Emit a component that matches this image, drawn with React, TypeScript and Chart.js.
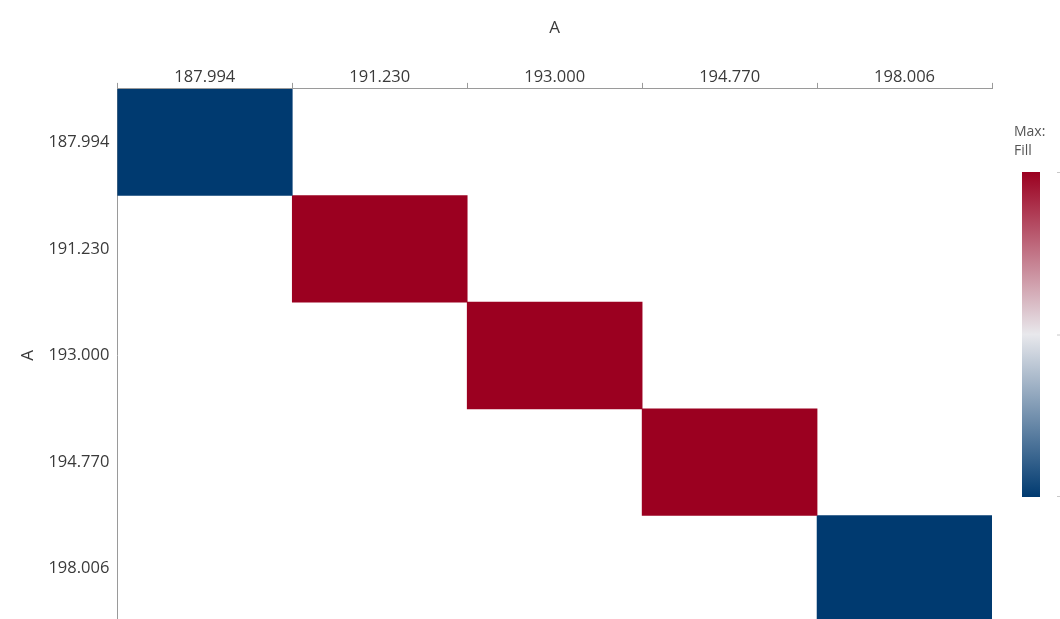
import React, { useEffect, useRef } from 'react';
import { Chart, registerables } from 'chart.js';

Chart.register(...registerables);

const colLabels = ['187.994', '191.230', '193.000', '194.770', '198.006'];
const rowLabels = ['187.994', '191.230', '193.000', '194.770', '198.006'];
// Fill value of each cell (null = empty cell)
const cellValues: (number | null)[][] = [
  [0, null, null, null, null],
  [null, 1, null, null, null],
  [null, null, 1, null, null],
  [null, null, null, 1, null],
  [null, null, null, null, 0],
];
const xTitle = 'A';
const yTitle = 'A';
const legendTitle = ['Max:', 'Fill'];
const valueMin = 0;
const valueMax = 1;
const colorStops: [number, string][] = [
  [0, '#003a70'],
  [0.5, '#e8e8ec'],
  [1, '#9b0020'],
];

const FONT = "'Open Sans', 'Noto Sans', sans-serif";
const TEXT = '#3a3a3a';
const AXIS = '#9a9a9a';

function hexToRgb(h: string) {
  const n = parseInt(h.slice(1), 16);
  return [(n >> 16) & 255, (n >> 8) & 255, n & 255];
}

function colorFor(v: number) {
  const t = Math.max(0, Math.min(1, (v - valueMin) / (valueMax - valueMin)));
  for (let i = 0; i < colorStops.length - 1; i++) {
    const [a, ca] = colorStops[i];
    const [b, cb] = colorStops[i + 1];
    if (t >= a && t <= b) {
      const f = b === a ? 0 : (t - a) / (b - a);
      const A = hexToRgb(ca);
      const B = hexToRgb(cb);
      const c = A.map((x, k) => Math.round(x + (B[k] - x) * f));
      return `rgb(${c[0]},${c[1]},${c[2]})`;
    }
  }
  return colorStops[colorStops.length - 1][1];
}

const colorBarPlugin = {
  id: 'colorBar',
  afterDraw(chart: any) {
    const ctx = chart.ctx as CanvasRenderingContext2D;
    ctx.save();
    ctx.fillStyle = '#555';
    ctx.font = `14px ${FONT}`;
    ctx.textAlign = 'left';
    ctx.textBaseline = 'middle';
    legendTitle.forEach((t, i) => ctx.fillText(t, 1014, 132 + i * 19));
    const x = 1022, top = 172, w = 18, h = 325;
    const g = ctx.createLinearGradient(0, top + h, 0, top);
    colorStops.forEach(([p, c]) => g.addColorStop(p, c));
    ctx.fillStyle = g;
    ctx.fillRect(x, top, w, h);
    ctx.strokeStyle = '#c8c8c8';
    ctx.lineWidth = 1;
    [top, top + h / 2, top + h - 1].forEach((y) => {
      ctx.beginPath();
      ctx.moveTo(1057, y + 0.5);
      ctx.lineTo(1060, y + 0.5);
      ctx.stroke();
    });
    ctx.restore();
  },
};

export default function App() {
  const ref = useRef<HTMLCanvasElement | null>(null);

  useEffect(() => {
    if (!ref.current) return;
    const datasets = rowLabels.map((_, r) => ({
      label: rowLabels[r],
      data: colLabels.map((_, c) => (cellValues[r][c] == null ? null : [r - 0.5, r + 0.5])) as any,
      backgroundColor: colLabels.map((_, c) => (cellValues[r][c] == null ? 'rgba(0,0,0,0)' : colorFor(cellValues[r][c] as number))),
      borderWidth: 0,
      barPercentage: 1,
      categoryPercentage: 1,
      grouped: false,
    }));

    const chart = new Chart(ref.current, {
      type: 'bar',
      data: { labels: colLabels, datasets },
      plugins: [colorBarPlugin],
      options: {
        animation: false,
        responsive: false,
        maintainAspectRatio: false,
        layout: { padding: { left: 0, right: 68, top: 0, bottom: 0 } },
        plugins: { legend: { display: false }, tooltip: { enabled: false } },
        scales: {
          x: {
            type: 'category',
            position: 'top',
            offset: true,
            grid: {
              display: true,
              offset: true,
              drawOnChartArea: false,
              drawTicks: true,
              tickLength: 6,
              color: AXIS,
            },
            border: { display: true, color: AXIS },
            ticks: { color: TEXT, font: { family: FONT, size: 16.5, lineHeight: 1 }, padding: -3, maxRotation: 0, autoSkip: false },
            title: {
              display: true,
              text: xTitle,
              color: TEXT,
              font: { family: FONT, size: 17 },
              padding: { top: 18, bottom: 34 },
            },
          },
          y: {
            type: 'linear',
            reverse: true,
            min: -0.5,
            max: 4.5,
            afterBuildTicks: (s: any) => {
              s.ticks = rowLabels.map((_, i) => ({ value: i }));
            },
            grid: { display: true, drawOnChartArea: false, drawTicks: false, color: AXIS },
            border: { display: true, color: AXIS },
            ticks: {
              color: TEXT,
              font: { family: FONT, size: 16.5 },
              padding: 8,
              autoSkip: false,
              callback: (v: any) => rowLabels[Math.round(Number(v))] ?? '',
            },
            title: {
              display: true,
              text: yTitle,
              color: TEXT,
              font: { family: FONT, size: 17 },
              padding: { top: 18, bottom: 2 },
            },
          },
        },
      },
    });
    return () => chart.destroy();
  }, []);

  return (
    <div style={{ position: 'fixed', left: 0, top: 0, width: 1060, height: 619, overflow: 'hidden', background: '#fff' }}>
      <canvas ref={ref} width={1060} height={640} style={{ display: 'block' }} />
    </div>
  );
}
